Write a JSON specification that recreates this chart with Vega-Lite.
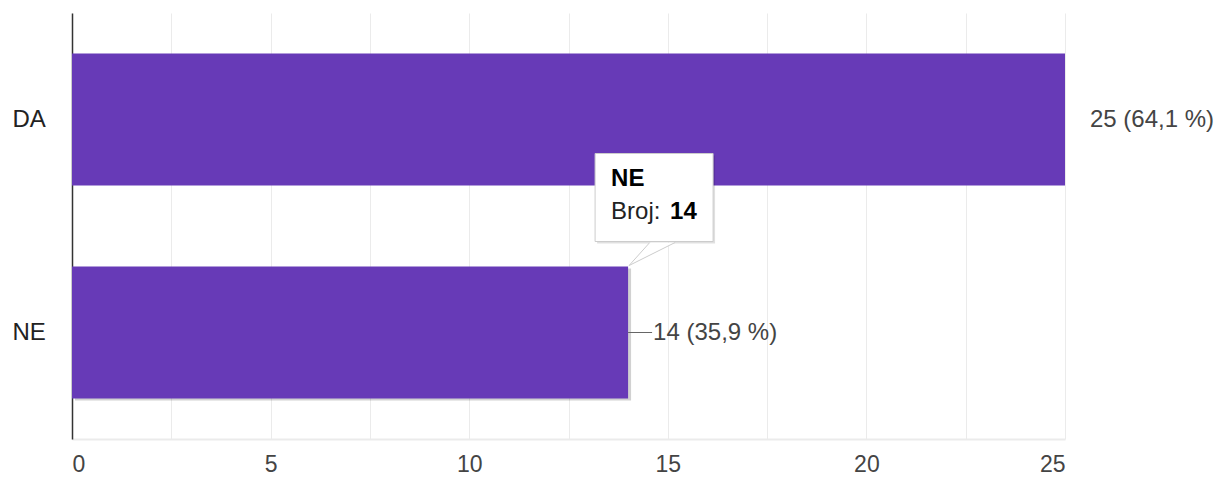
{
  "$schema": "https://vega.github.io/schema/vega-lite/v6.json",
  "autosize": {"type": "none"},
  "padding": {"left": 72, "top": 13, "right": 158, "bottom": 39},
  "width": 993,
  "height": 426,
  "background": "white",
  "config": {
    "view": {"stroke": null},
    "font": "Liberation Sans",
    "text": {"font": "Liberation Sans"}
  },
  "data": {
    "values": [
      {"answer": "DA", "count": 25, "label": "25 (64,1 %)"},
      {"answer": "NE", "count": 14, "label": "14 (35,9 %)"}
    ]
  },
  "encoding": {
    "y": {
      "field": "answer",
      "type": "nominal",
      "sort": ["DA", "NE"],
      "scale": {"domain": ["DA", "NE"], "paddingInner": 0.38, "paddingOuter": 0.19},
      "axis": {
        "title": null,
        "domain": true,
        "domainColor": "#333333",
        "domainWidth": 1.5,
        "ticks": false,
        "grid": false,
        "labelAlign": "left",
        "labelPadding": 60,
        "labelFontSize": 24,
        "labelColor": "#222222",
        "labelFont": "Liberation Sans"
      }
    }
  },
  "layer": [
    {
      "transform": [{"filter": "datum.answer === 'NE'"}],
      "mark": {"type": "bar", "color": "#000000", "opacity": 0.18, "xOffset": 3, "yOffset": 2},
      "encoding": {
        "x": {"field": "count", "type": "quantitative"}
      }
    },
    {
      "mark": {"type": "bar", "color": "#673ab7"},
      "encoding": {
        "x": {
          "field": "count",
          "type": "quantitative",
          "scale": {"domain": [0, 25], "nice": false, "zero": true},
          "axis": {
            "title": null,
            "values": [0, 2.5, 5, 7.5, 10, 12.5, 15, 17.5, 20, 22.5, 25],
            "labelExpr": "datum.value % 5 === 0 ? datum.label : ''",
            "grid": true,
            "gridColor": "#ebebeb",
            "gridWidth": 1,
            "domain": true,
            "domainColor": "#ebebeb",
            "domainWidth": 2,
            "ticks": false,
            "labelPadding": 14,
            "labelFontSize": 23,
            "labelColor": "#444444",
            "labelFont": "Liberation Sans"
          }
        }
      }
    },
    {
      "transform": [{"filter": "datum.count < 25"}],
      "mark": {"type": "rule", "color": "#666666", "strokeWidth": 1, "x2Offset": 24},
      "encoding": {
        "x": {"field": "count", "type": "quantitative"},
        "x2": {"field": "count"}
      }
    },
    {
      "mark": {"type": "text", "align": "left", "baseline": "middle", "dx": 25, "fontSize": 24, "color": "#444444", "font": "Liberation Sans"},
      "encoding": {
        "x": {"field": "count", "type": "quantitative"},
        "text": {"field": "label", "type": "nominal"}
      }
    },
    {
      "transform": [{"filter": "datum.answer === 'NE'"}],
      "mark": {"type": "bar", "color": "#000000", "opacity": 0.12, "height": 88, "yOffset": -133, "xOffset": -31, "x2Offset": 87},
      "encoding": {
        "x": {"field": "count", "type": "quantitative"},
        "x2": {"field": "count"}
      }
    },
    {
      "transform": [{"filter": "datum.answer === 'NE'"}],
      "mark": {"type": "bar", "color": "#ffffff", "stroke": "#cccccc", "strokeWidth": 1, "height": 88, "yOffset": -135, "xOffset": -33, "x2Offset": 85},
      "encoding": {
        "x": {"field": "count", "type": "quantitative"},
        "x2": {"field": "count"}
      }
    },
    {
      "transform": [{"filter": "datum.answer === 'NE'"}],
      "mark": {
        "type": "point",
        "shape": "M0.9,-1 L0,0 L2,-1",
        "size": 2116,
        "filled": true,
        "fill": "#ffffff",
        "stroke": "#cccccc",
        "strokeWidth": 1,
        "opacity": 1,
        "xOffset": 1,
        "yOffset": -67
      },
      "encoding": {
        "x": {"field": "count", "type": "quantitative"}
      }
    },
    {
      "transform": [{"filter": "datum.answer === 'NE'"}],
      "mark": {"type": "text", "align": "left", "baseline": "middle", "dx": -17, "yOffset": -154, "fontSize": 24, "fontWeight": "bold", "color": "#000000", "font": "Liberation Sans"},
      "encoding": {
        "x": {"field": "count", "type": "quantitative"},
        "text": {"field": "answer", "type": "nominal"}
      }
    },
    {
      "transform": [{"filter": "datum.answer === 'NE'"}],
      "mark": {"type": "text", "align": "left", "baseline": "middle", "dx": -17, "yOffset": -121, "fontSize": 24, "color": "#222222", "font": "Liberation Sans", "text": "Broj:"},
      "encoding": {
        "x": {"field": "count", "type": "quantitative"}
      }
    },
    {
      "transform": [{"filter": "datum.answer === 'NE'"}],
      "mark": {"type": "text", "align": "left", "baseline": "middle", "dx": 42, "yOffset": -121, "fontSize": 24, "fontWeight": "bold", "color": "#000000", "font": "Liberation Sans"},
      "encoding": {
        "x": {"field": "count", "type": "quantitative"},
        "text": {"field": "count", "type": "quantitative"}
      }
    }
  ]
}
